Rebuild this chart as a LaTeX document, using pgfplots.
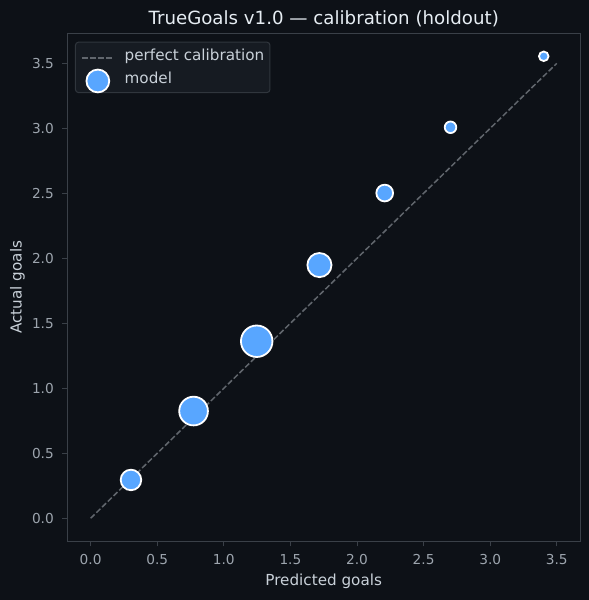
\documentclass[border=0pt]{standalone}
\usepackage{fontspec}
\setmainfont{DejaVu Sans}
\usepackage{pgfplots}
\pgfplotsset{compat=1.18}
\definecolor{bg}{HTML}{0D1117}
\definecolor{framecol}{HTML}{3A4048}
\definecolor{ticklab}{HTML}{9DA5AE}
\definecolor{labcol}{HTML}{C9D1D9}
\definecolor{titlecol}{HTML}{E6EDF3}
\definecolor{mblue}{HTML}{58A6FF}
\definecolor{dashcol}{HTML}{61666D}
\definecolor{legfill}{HTML}{161B22}
\definecolor{legedge}{HTML}{30363D}
\begin{document}
\begin{tikzpicture}
\fill[bg] (0bp,0bp) rectangle (589bp,600bp);
\useasboundingbox (0bp,0bp) rectangle (589bp,600bp);
\begin{axis}[
  at={(67.3bp,58.6bp)}, anchor=south west,
  scale only axis, width=512.8bp, height=508.2bp,
  xmin=-0.175, xmax=3.675, ymin=-0.1777, ymax=3.7317,
  xtick={0,0.5,1,1.5,2,2.5,3,3.5}, ytick={0,0.5,1,1.5,2,2.5,3,3.5},
  xtick pos=bottom, ytick pos=left,
  axis line style={framecol, line width=1bp},
  tick align=outside, major tick length=5bp,
  tick style={framecol, line width=1bp},
  minor tick num=0,
  /pgf/number format/fixed, /pgf/number format/fixed zerofill,
  /pgf/number format/precision=1, /pgf/number format/assume math mode=true,
  ticklabel style={font=\fontsize{13.7bp}{16bp}\selectfont, text=ticklab, inner sep=0pt},
  xticklabel style={anchor=north, yshift=-7.6bp},
  yticklabel style={anchor=east, xshift=-8.3bp},
  every axis title shift=0pt,
  title={TrueGoals v1.0 — calibration (holdout)},
  title style={at={(axis description cs:0.5,1.0279)}, anchor=center,
    font=\fontsize{18.2bp}{22bp}\selectfont, text=titlecol, inner sep=0pt},
  xlabel={Predicted goals},
  xlabel style={at={(axis description cs:0.5,-0.0779)}, anchor=center,
    font=\fontsize{15.2bp}{18bp}\selectfont, text=labcol, inner sep=0pt},
  ylabel={Actual goals},
  ylabel style={at={(axis description cs:-0.0971,0.5)}, anchor=center,
    font=\fontsize{15.2bp}{18bp}\selectfont, text=labcol, inner sep=0pt},
  legend cell align=left,
  legend style={at={(axis description cs:0.015,0.9833)}, anchor=north west,
    fill=legfill, draw=legedge, line width=1bp, rounded corners=3bp,
    inner xsep=5.7bp, inner ysep=3.5bp, row sep=6.7bp,
    font=\fontsize{15.2bp}{18bp}\selectfont, text=labcol,
    nodes={inner sep=0pt, text height=0.76em, text depth=0.24em}},
]
\addplot[dashcol, line width=1.5bp, dash pattern=on 5.6bp off 2.4bp,
  legend image code/.code={\path (0bp,-7.6bp) (42bp,11.4bp);
    \draw[dashcol, line width=1.5bp, dash pattern=on 5.6bp off 2.4bp, sharp corners] (0bp,0bp) -- (30bp,0bp);}]
  coordinates {(0,0) (3.5,3.5)};
\addlegendentry{perfect calibration}
\addplot[scatter, only marks, mark=*,
  scatter/use mapped color={draw=white, fill=mblue},
  mark options={line width=1.8bp},
  visualization depends on={\thisrow{r} \as \rad},
  scatter/@pre marker code/.append style={/tikz/mark size=\rad},
  legend image code/.code={\path (0bp,-7.6bp) (42bp,7.6bp);
    \draw[overlay, fill=mblue, draw=white, line width=1.8bp] (15.9bp,0bp) circle (11.4bp);}]
  table {
x y r
0.303 0.295 10.3
0.773 0.825 14.4
1.247 1.362 15.8
1.718 1.948 12.1
2.208 2.502 8.4
2.702 3.008 5.8
3.402 3.554 4.8
};
\addlegendentry{model}
\end{axis}
\end{tikzpicture}
\end{document}
